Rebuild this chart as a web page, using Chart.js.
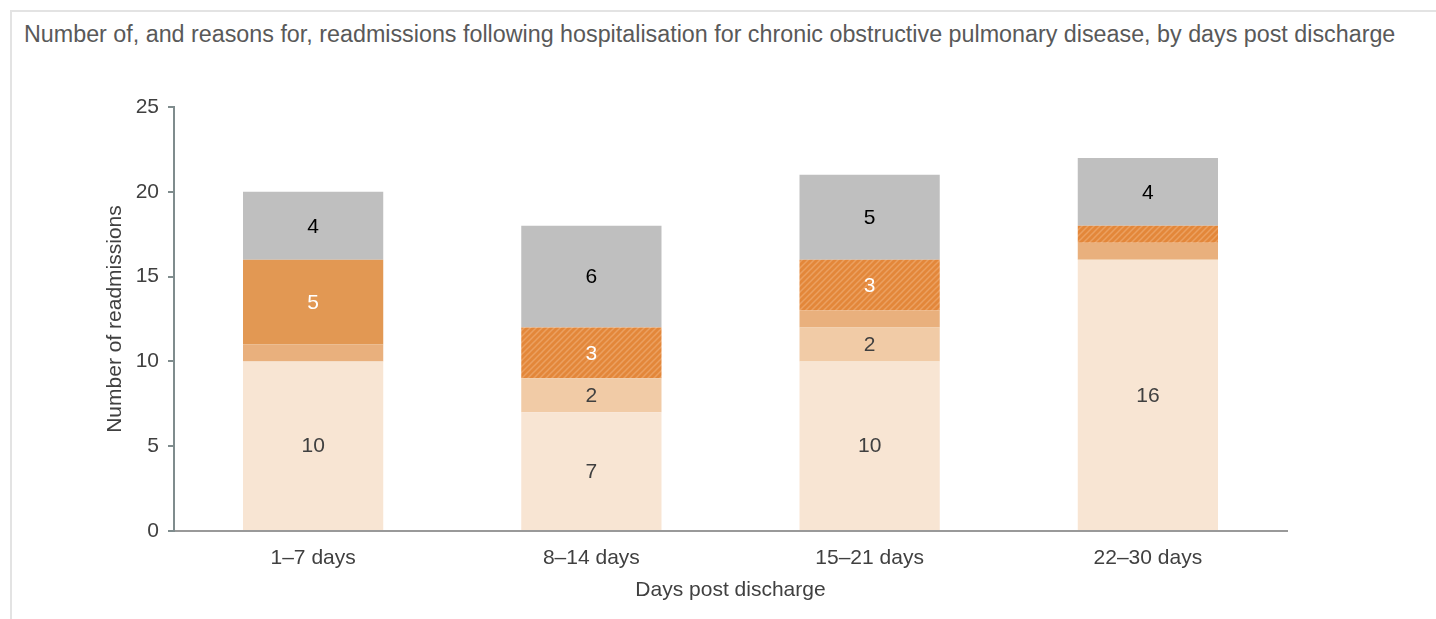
<!DOCTYPE html>
<html>
<head>
<meta charset="utf-8">
<script src="https://cdn.jsdelivr.net/npm/chart.js@4.4.0/dist/chart.umd.min.js"></script>
<style>
  html, body { margin: 0; padding: 0; background: #fff; }
  body { width: 1436px; height: 619px; overflow: hidden; position: relative; font-family: "Liberation Sans", Arial, sans-serif; }
  .frame { position: absolute; left: 10px; top: 10px; width: 1440px; height: 620px; border-top: 2px solid #e3e3e3; border-left: 2px solid #e3e3e3; }
  .title { position: absolute; left: 24px; top: 21px; font-size: 23.3px; color: #595959; white-space: nowrap; }
  #wrap { position: absolute; left: 0; top: 0; width: 1436px; height: 619px; }
</style>
</head>
<body>
<div class="frame"></div>
<div class="title">Number of, and reasons for, readmissions following hospitalisation for chronic obstructive pulmonary disease, by days post discharge</div>
<div id="wrap"><canvas id="readmitChart"></canvas></div>
<script>
// categories and stacked segment values (bottom to top)
const categories = ['1–7 days', '8–14 days', '15–21 days', '22–30 days'];
const seriesA = [10, 7, 10, 16];  // lightest
const seriesB = [0, 2, 2, 0];     // peach
const seriesC = [1, 0, 1, 1];     // medium
const seriesD = [5, 0, 0, 0];     // solid orange
const seriesE = [0, 3, 3, 1];     // hatched orange
const seriesF = [4, 6, 5, 4];     // grey
const yTicks = [0, 5, 10, 15, 20, 25];

const fontFamily = '"Liberation Sans", Arial, sans-serif';

// hatched fill for the striped segments
function makeHatch() {
    const c = document.createElement('canvas');
    c.width = 6; c.height = 6;
    const g = c.getContext('2d');
    g.fillStyle = '#e3873a';
    g.fillRect(0, 0, 6, 6);
    g.strokeStyle = '#eba060';
    g.lineWidth = 1.5;
    g.beginPath();
    g.moveTo(-1, 7); g.lineTo(7, -1);
    g.moveTo(-4, 4); g.lineTo(4, -4);
    g.moveTo(2, 10); g.lineTo(10, 2);
    g.stroke();
    return g.createPattern(c, 'repeat');
}

const hatch = makeHatch();

// draws the value in the middle of each segment (only 2 and up, like the original)
const segmentLabels = {
    id: 'segmentLabels',
    afterDatasetsDraw(chart) {
        const ctx = chart.ctx;
        ctx.save();
        ctx.font = '21px ' + fontFamily;
        ctx.textAlign = 'center';
        ctx.textBaseline = 'middle';
        chart.data.datasets.forEach((ds, i) => {
            const meta = chart.getDatasetMeta(i);
            meta.data.forEach((bar, j) => {
                const v = ds.data[j];
                if (v < 2) return;
                ctx.fillStyle = ds.labelColor;
                ctx.fillText(String(v), bar.x, (bar.y + bar.base) / 2 + 1);
            });
        });
        ctx.restore();
    }
};

const ctx = document.getElementById('readmitChart').getContext('2d');
let readmitChart = new Chart(ctx, {
    type: 'bar',
    data: {
        labels: categories,
        datasets: [
            { data: seriesA, backgroundColor: '#f8e5d3', labelColor: '#404040' },
            { data: seriesB, backgroundColor: '#f1cba6', labelColor: '#404040' },
            { data: seriesC, backgroundColor: '#e9b07d', labelColor: '#404040' },
            { data: seriesD, backgroundColor: '#e29853', labelColor: '#ffffff' },
            { data: seriesE, backgroundColor: hatch, labelColor: '#ffffff' },
            { data: seriesF, backgroundColor: '#bfbfbf', labelColor: '#000000' }
        ]
    },
    options: {
        responsive: true,
        maintainAspectRatio: false,
        animation: false,
        layout: { padding: { left: 103, right: 149, top: 107, bottom: 0 } },
        datasets: { bar: { categoryPercentage: 1, barPercentage: 0.504 } },
        plugins: {
            legend: { display: false },
            tooltip: { enabled: false },
            title: { display: false }
        },
        scales: {
            x: {
                stacked: true,
                afterFit(scale) { scale.height = 88; },
                grid: { display: false, drawTicks: false },
                border: { display: true, color: '#999999', width: 2 },
                ticks: { color: '#404040', font: { size: 21, family: fontFamily }, padding: 15 },
                title: { display: true, text: 'Days post discharge', color: '#404040', font: { size: 21, family: fontFamily }, padding: { top: 4, bottom: 16 } }
            },
            y: {
                stacked: true,
                min: 0,
                max: 25,
                afterFit(scale) { scale.width = 71; },
                afterBuildTicks(scale) { scale.ticks = yTicks.map(v => ({ value: v })); },
                grid: { drawOnChartArea: false, drawTicks: true, tickLength: 6, color: '#7f8c8d', lineWidth: 2 },
                border: { display: true, color: '#7f8c8d', width: 2 },
                ticks: { color: '#404040', font: { size: 21, family: fontFamily }, padding: 9 },
                title: { display: true, text: 'Number of readmissions', color: '#404040', font: { size: 21, family: fontFamily }, padding: 0 }
            }
        }
    },
    plugins: [segmentLabels]
});
</script>
</body>
</html>
